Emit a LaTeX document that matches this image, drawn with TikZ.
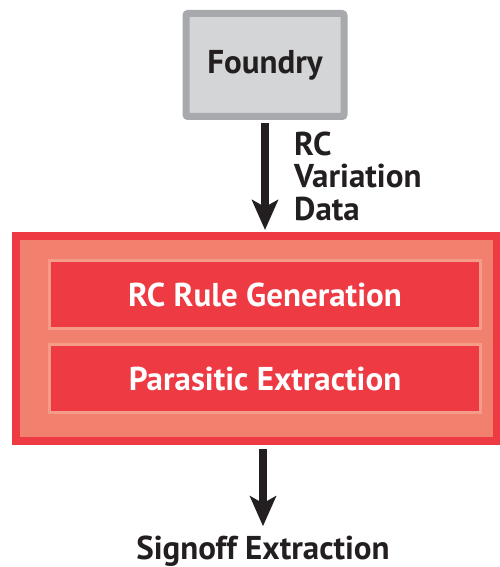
\documentclass[tikz,border=0pt]{standalone}
\usepackage{fontspec}
\setmainfont{PT Sans}
\usepackage{xcolor}
\usepackage{tikz}
\usetikzlibrary{arrows.meta,positioning}

\definecolor{txtdark}{HTML}{231F20}
\definecolor{foundryfill}{HTML}{D4D5D7}
\definecolor{foundryline}{HTML}{A7A9AC}
\definecolor{extred}{HTML}{EE3A43}
\definecolor{extsalmon}{HTML}{F1806F}
\definecolor{extlight}{HTML}{F59C89}

\begin{document}
\begin{tikzpicture}[x=1pt, y=-1pt, font=\fontsize{33}{32.5}\selectfont\bfseries, text=txtdark,
  foundrybox/.style={draw=foundryline, fill=foundryfill, line width=7pt, rounded corners=2pt,
    minimum width=158pt, minimum height=103pt},
  outerbox/.style={draw=extred, fill=extsalmon, line width=8pt, minimum width=481pt, minimum height=205pt},
  stagebox/.style={draw=extlight, fill=extred, line width=3pt, text=white,
    minimum width=431pt, minimum height=68pt},
  flowarrow/.style={line width=8.5pt, txtdark, -{Stealth[length=30pt, width=26pt, inset=7pt]}}]
\useasboundingbox (0,0) rectangle (500,567);

\node[foundrybox] (foundry) at (265,65) {Foundry};
\node[outerbox] (extract) at (256.5,338.5) {};
\node[stagebox] (rcrule) at (265,294.5) {RC Rule Generation};
\node[stagebox] (parasitic) at (265,378.5) {Parasitic Extraction};
\node[anchor=base west, align=left, inner sep=0pt] (rcdata) at (294,220) {RC\\Variation\\Data};
\node[anchor=base, inner sep=0pt] (signoff) at (263,559) {Signoff Extraction};

\draw[flowarrow, shorten <=3.5pt, shorten >=2pt] (foundry.south) -- (foundry.south |- extract.north);
\draw[flowarrow, shorten <=4pt, shorten >=9pt] (extract.south -| signoff) -- (signoff.north);
\end{tikzpicture}
\end{document}
